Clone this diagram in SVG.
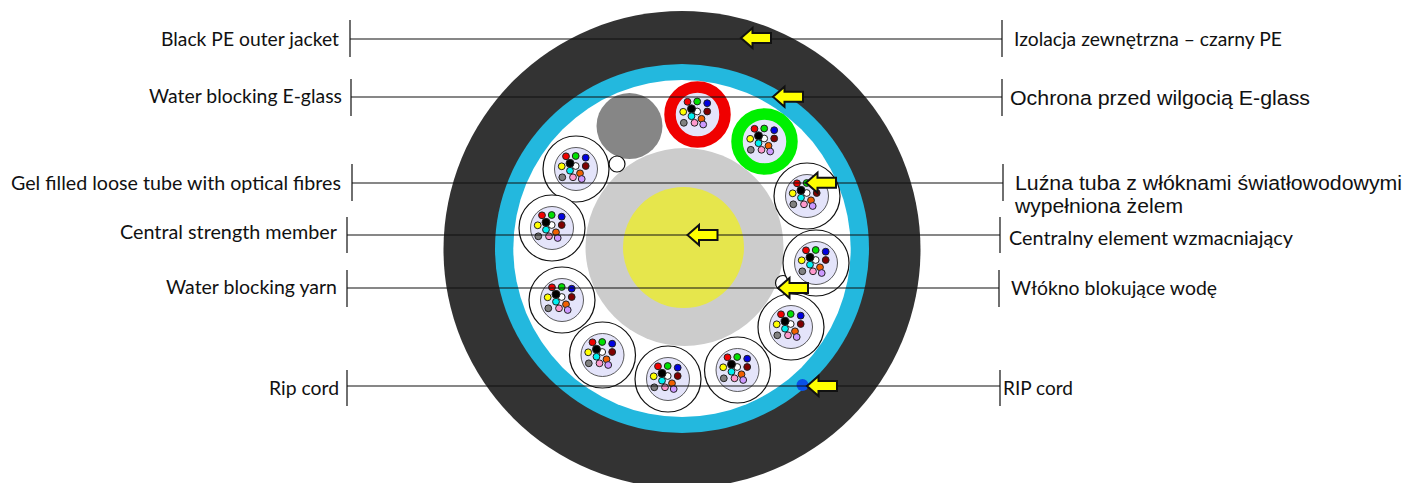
<svg xmlns="http://www.w3.org/2000/svg" width="1404" height="483" viewBox="0 0 1404 483">
<style>
.l{font-family:"Lato","Open Sans",sans-serif;font-size:18.5px;fill:#111}
.a{font-family:"Liberation Sans",Arial,sans-serif;font-size:20.5px;fill:#111}
.c{stroke:#111;stroke-width:1.2;fill:none}
.f{stroke:#222;stroke-width:1}
.o{fill:#fff;stroke:#111;stroke-width:1.2}
.i{fill:#e4e4fa;stroke:#333;stroke-width:.8}
.ar{fill:#ffff00;stroke:#111;stroke-width:2;stroke-linejoin:miter}
</style>
<defs>
<g id="fibres">
<circle class="f" cx="-10" cy="-12.700" r="3.400" fill="#f00000"/>
<circle class="f" cx="-.3" cy="-13" r="3.400" fill="#00e000"/>
<circle class="f" cx="9.700" cy="-11.300" r="3.400" fill="#0000e0"/>
<circle class="f" cx="-14.300" cy="-2.700" r="3.400" fill="#ffff00"/>
<circle class="f" cx="9.700" cy="-3" r="3.400" fill="#800000"/>
<circle class="f" cx="-.3" cy="-3" r="3.400" fill="#fff"/>
<circle class="f" cx="-6" cy="-5.700" r="4" fill="#000"/>
<circle class="f" cx="-6" cy="1.700" r="3.400" fill="#00f0f0"/>
<circle class="f" cx="4" cy="4.300" r="3.400" fill="#f06000"/>
<circle class="f" cx="-13.700" cy="8.300" r="3.400" fill="#808080"/>
<circle class="f" cx="-3" cy="8.300" r="3.400" fill="#ff99cc"/>
<circle class="f" cx="5.700" cy="10" r="3.400" fill="#cc99ff"/>
</g>
<g id="tube"><circle class="o" r="33"/><circle class="i" r="21.500"/><use href="#fibres"/></g>
<path id="arrow" class="ar" d="M0 0 L11.500 -10 V-5 H30 V5 H11.500 V10 Z"/>
</defs>
<g id="cable">
<circle cx="682" cy="249.500" r="238.500" fill="#333333"/>
<ellipse cx="682" cy="248.500" rx="187" ry="184.500" fill="#23b8de"/>
<ellipse cx="682" cy="248.500" rx="168.700" ry="168.500" fill="#fff"/>
</g>
<g id="rip-cord"><circle cx="802.500" cy="385" r="6" fill="#0a50e6"/></g>
<g id="central-member">
<circle cx="684.500" cy="247" r="99" fill="#cccccc"/>
<circle cx="683.500" cy="247.500" r="60.500" fill="#e6e64c"/>
</g>
<g id="filler"><circle cx="629.500" cy="126" r="33" fill="#868686"/></g>
<g id="yarn-1"><circle class="o" cx="617" cy="164" r="8"/></g>
<g id="yarn-2"><circle class="o" cx="783" cy="283" r="7.500"/></g>
<g id="tube-red"><circle cx="697.500" cy="114.500" r="27.500" fill="#e4e4fa" stroke="#f00000" stroke-width="11.500"/><use href="#fibres" x="697.500" y="114.500"/></g>
<g id="tube-green"><circle cx="764.500" cy="141.500" r="27.500" fill="#e4e4fa" stroke="#00f000" stroke-width="11.500"/><use href="#fibres" x="764.500" y="141.500"/></g>
<g id="tube-1"><use href="#tube" x="576" y="169"/></g>
<g id="tube-2"><use href="#tube" x="552" y="228"/></g>
<g id="tube-3"><use href="#tube" x="562" y="300"/></g>
<g id="tube-4"><use href="#tube" x="602.500" y="355"/></g>
<g id="tube-5"><use href="#tube" x="668" y="379"/></g>
<g id="tube-6"><use href="#tube" x="737.500" y="370"/></g>
<g id="tube-7"><use href="#tube" x="791" y="327"/></g>
<g id="tube-8"><use href="#tube" x="816" y="263"/></g>
<g id="tube-9"><use href="#tube" x="807" y="196"/></g>
<g id="connectors">
<path class="c" d="M350 39H1002M350 20V57M1002 20V57"/>
<path class="c" d="M351 97H1002M351 79V116M1002 79V116"/>
<path class="c" d="M352 183H1003M352 164V201M1003 164V201"/>
<path class="c" d="M347 235H1000M347 217V253M1000 217V253"/>
<path class="c" d="M347 288H999M347 270V307M999 270V307"/>
<path class="c" d="M347 386H1000M347 370V406M1000 370V406"/>
<use href="#arrow" x="741" y="38"/>
<use href="#arrow" x="773" y="96.700"/>
<use href="#arrow" x="806" y="182.700"/>
<use href="#arrow" x="687.500" y="235"/>
<use href="#arrow" x="778" y="288"/>
<use href="#arrow" x="807" y="386"/>
</g>
<g id="labels-en">
<text class="l" x="161" y="46" textLength="178" lengthAdjust="spacingAndGlyphs">Black PE outer jacket</text>
<text class="l" x="149" y="103" textLength="193" lengthAdjust="spacingAndGlyphs">Water blocking E-glass</text>
<text class="l" x="11" y="190" textLength="330" lengthAdjust="spacingAndGlyphs">Gel filled loose tube with optical fibres</text>
<text class="l" x="120" y="239" textLength="217" lengthAdjust="spacingAndGlyphs">Central strength member</text>
<text class="l" x="166" y="294" textLength="171" lengthAdjust="spacingAndGlyphs">Water blocking yarn</text>
<text class="l" x="269" y="395" textLength="70" lengthAdjust="spacingAndGlyphs">Rip cord</text>
</g>
<g id="labels-pl">
<text class="l" x="1014" y="46" textLength="268" lengthAdjust="spacingAndGlyphs">Izolacja zewnętrzna – czarny PE</text>
<text class="a" x="1010" y="105" textLength="300" lengthAdjust="spacingAndGlyphs">Ochrona przed wilgocią E-glass</text>
<text class="a" x="1015" y="190" textLength="387" lengthAdjust="spacingAndGlyphs">Luźna tuba z włóknami światłowodowymi</text>
<text class="a" x="1015" y="213" textLength="168" lengthAdjust="spacingAndGlyphs">wypełniona żelem</text>
<text class="l" x="1009" y="245" textLength="284" lengthAdjust="spacingAndGlyphs">Centralny element wzmacniający</text>
<text class="l" x="1011" y="295" textLength="206" lengthAdjust="spacingAndGlyphs">Włókno blokujące wodę</text>
<text class="l" x="1003" y="395" textLength="70" lengthAdjust="spacingAndGlyphs">RIP cord</text>
</g>
</svg>
